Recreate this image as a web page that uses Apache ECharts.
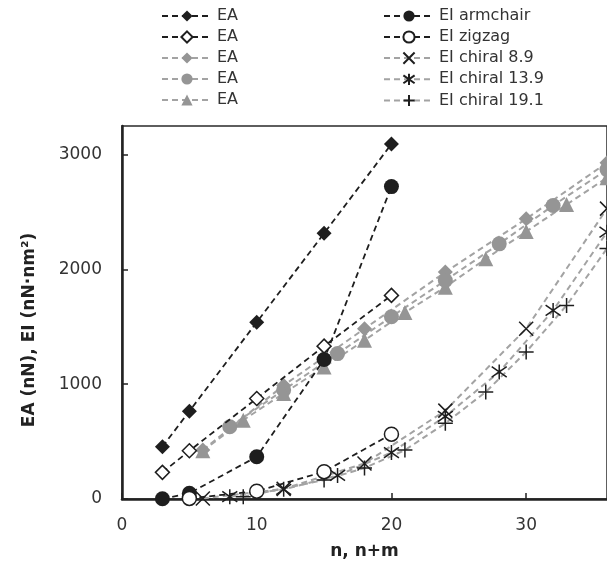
<!DOCTYPE html>
<html>
<head>
<meta charset="utf-8">
<script src="https://cdn.jsdelivr.net/npm/echarts@6/dist/echarts.min.js"></script>
<style>html,body{margin:0;padding:0;background:#fff;}#c{width:607px;height:570px;}</style>
</head>
<body>
<div id="c"></div>
<script>
// Data
const xArm = [3, 5, 10, 15, 20];
const eaArmchair = [455, 765, 1540, 2315, 3093];
const eaZigzag = [232, 420, 876, 1332, 1774];
const x89 = [6, 12, 18, 24, 30, 36];
const ea89 = [426, 990, 1484, 1977, 2441, 2930];
const x139 = [8, 12, 16, 20, 24, 28, 32, 36];
const ea139 = [629, 950, 1267, 1588, 1904, 2223, 2557, 2870];
const x191 = [6, 9, 12, 15, 18, 21, 24, 27, 30, 33, 36];
const ea191 = [420, 687, 920, 1150, 1383, 1625, 1846, 2093, 2330, 2565, 2800];
const eiArmchair = [2, 50, 368, 1215, 2722];
const xZig = [5, 10, 15, 20];
const eiZigzag = [5, 68, 238, 565];
const ei89 = [5, 88, 310, 770, 1484, 2530];
const ei139 = [20, 84, 205, 405, 720, 1107, 1643, 2325];
const xEi191 = [9, 15, 18, 21, 24, 27, 30, 33, 36];
const ei191 = [20, 165, 270, 426, 660, 933, 1281, 1687, 2183];
const xTicks = [0, 10, 20, 30];
const yTicks = [0, 1000, 2000, 3000];

const pairs = (xs, ys) => xs.map((x, i) => [x, ys[i]]);

const BLACK = '#1e1e1e';
const GREY = '#959595';
const GLINE = '#a3a3a3';
const blackLine = {color: BLACK, width: 1.8, type: [6, 4]};
const greyLine = {color: GLINE, width: 2, type: [6, 4]};
const X_PATH = 'path://M0,0L10,10M10,0L0,10';
const AST_PATH = 'path://M0,1.5L10,8.5M10,1.5L0,8.5M5,0L5,10';
const PLUS_PATH = 'path://M5,0L5,10M0,5L10,5';

function S(name, data, symbol, size, item, line, z) {
  return {
    name, type: 'line', data, symbol, symbolSize: size,
    itemStyle: item, lineStyle: line, z: z || 2,
    emphasis: {disabled: true}, animation: false, clip: true
  };
}

const series = [
  S('EA1', pairs(xArm, eaArmchair), 'diamond', 15, {color: BLACK}, blackLine, 4),
  S('EA2', pairs(xArm, eaZigzag), 'diamond', 14, {color: '#fff', borderColor: BLACK, borderWidth: 1.5}, blackLine, 4),
  S('EA3', pairs(x89, ea89), 'diamond', 15, {color: GREY}, greyLine, 3),
  S('EA4', pairs(x139, ea139), 'circle', 15, {color: GREY}, greyLine, 3),
  S('EA5', pairs(x191, ea191), 'triangle', 15, {color: GREY}, greyLine, 3),
  S('EI armchair', pairs(xArm, eiArmchair), 'circle', 15, {color: BLACK}, blackLine, 4),
  S('EI zigzag', pairs(xZig, eiZigzag), 'circle', 14, {color: '#fff', borderColor: BLACK, borderWidth: 1.5}, blackLine, 4),
  S('EI chiral 8.9', pairs(x89, ei89), X_PATH, 14, {color: 'none', borderColor: BLACK, borderWidth: 1.5}, greyLine, 3),
  S('EI chiral 13.9', pairs(x139, ei139), AST_PATH, 15, {color: 'none', borderColor: BLACK, borderWidth: 1.5}, greyLine, 3),
  S('EI chiral 19.1', pairs(xEi191, ei191), PLUS_PATH, 15, {color: 'none', borderColor: BLACK, borderWidth: 1.5}, greyLine, 3)
];

const FONT = 'DejaVu Sans';
const legendCommon = {
  orient: 'vertical', itemWidth: 50, itemHeight: 14, itemGap: 5,
  textStyle: {fontFamily: FONT, fontSize: 16, color: '#333', lineHeight: 14},
  selectedMode: false,
  formatter: n => n.startsWith('EA') ? 'EA' : n
};

const chart = echarts.init(document.getElementById('c'), null, {renderer: 'canvas'});
chart.setOption({
  animation: false,
  backgroundColor: '#fff',
  legend: [
    Object.assign({left: 156, top: 3, data: ['EA1', 'EA2', 'EA3', 'EA4', 'EA5']}, legendCommon),
    Object.assign({left: 378, top: 3, data: ['EI armchair', 'EI zigzag', 'EI chiral 8.9', 'EI chiral 13.9', 'EI chiral 19.1']}, legendCommon)
  ],
  grid: {left: 122, top: 126, width: 486, height: 373, show: true, borderColor: '#2a2a2a', borderWidth: 1.5, backgroundColor: 'transparent'},
  xAxis: {
    type: 'value', min: 0, max: 36,
    name: 'n, n+m', nameLocation: 'middle', nameGap: 44,
    nameTextStyle: {fontFamily: FONT, fontSize: 17, fontWeight: 'bold', color: '#222'},
    axisLine: {show: true, onZero: false, lineStyle: {color: '#222', width: 2.5}},
    axisTick: {show: true, inside: true, length: 6, lineStyle: {color: '#222', width: 1.5}, customValues: xTicks},
    axisLabel: {fontFamily: FONT, fontSize: 17, color: '#333', margin: 18, customValues: xTicks, formatter: v => String(v)},
    splitLine: {show: false}
  },
  yAxis: {
    type: 'value', min: 0, max: 3250,
    axisLine: {show: true, onZero: false, lineStyle: {color: '#222', width: 2.5}},
    axisTick: {show: true, inside: true, length: 6, lineStyle: {color: '#222', width: 1.5}, customValues: yTicks},
    axisLabel: {fontFamily: FONT, fontSize: 17, color: '#333', margin: 20, customValues: yTicks, formatter: v => String(v)},
    splitLine: {show: false}
  },
  graphic: [{
    type: 'text', x: 30, y: 330, rotation: Math.PI / 2,
    style: {text: 'EA (nN), EI (nN·nm²)', font: 'bold 17px "DejaVu Sans"', fill: '#222', align: 'center', verticalAlign: 'middle'}
  }],
  series
});
</script>
</body>
</html>
